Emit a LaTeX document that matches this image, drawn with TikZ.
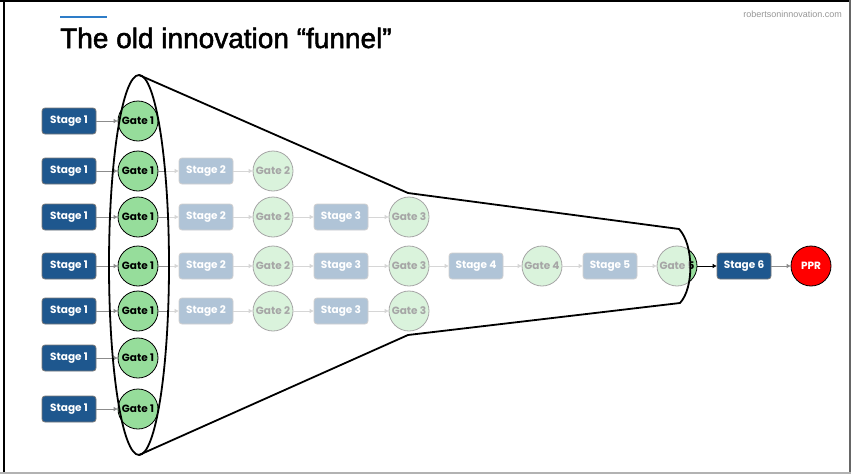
\documentclass[tikz,border=0pt]{standalone}
\usepackage{fontspec}
\setmainfont{Liberation Sans}
\newfontfamily\boxfont{Poppins}
\newfontfamily\titlefont[FakeBold=1.8]{Liberation Sans}
\usetikzlibrary{arrows.meta}
\definecolor{stageblue}{RGB}{30, 87, 142}
\definecolor{gategreen}{RGB}{150, 221, 155}
\definecolor{arrowgray}{RGB}{140, 140, 140}
\definecolor{titleblue}{RGB}{46, 125, 200}
\definecolor{boxborder}{RGB}{120, 120, 120}
\definecolor{urlgray}{RGB}{150, 150, 150}

\begin{document}
\begin{tikzpicture}[
  stagebox/.style={rectangle, rounded corners=3pt, minimum width=54pt, minimum height=26pt, inner sep=0pt, fill=stageblue, draw=boxborder, line width=0.8pt, text=white, font=\boxfont\bfseries\fontsize{10.5pt}{12pt}\selectfont},
  gatenode/.style={circle, minimum size=40pt, inner sep=0pt, fill=gategreen, draw=black, line width=0.8pt, font=\boxfont\bfseries\fontsize{10.5pt}{12pt}\selectfont},
  pprnode/.style={circle, minimum size=40pt, inner sep=0pt, fill=red, draw=black, line width=0.8pt, text=white, font=\boxfont\bfseries\fontsize{10.5pt}{12pt}\selectfont},
  flowarrow/.style={draw=arrowgray, line width=0.8pt, -{Triangle[length=4pt, width=4pt]}}
]
\useasboundingbox (0pt, 0pt) rectangle (851pt, -474pt);
% frame
\fill[black] (0pt, 0pt) rectangle (851pt, -2pt);
\fill[black] (2.5pt, 0pt) rectangle (5pt, -474pt);
\fill[gray!80!black] (849pt, 0pt) rectangle (851pt, -474pt);
\fill[gray!60] (0pt, -472pt) rectangle (851pt, -474pt);
% title
\draw[titleblue, line width=2pt] (60pt, -17pt) -- (107pt, -17pt);
\node (title) [anchor=base west, inner sep=0pt, font=\titlefont\fontsize{28pt}{30pt}\selectfont] at (60pt, -48pt) {The old innovation “funnel”};
\node (url) [anchor=base east, inner sep=0pt, text=urlgray, font=\fontsize{9pt}{10pt}\selectfont] at (842pt, -17pt) {robertsoninnovation.com};
% row 1
\node (s1a) [stagebox] at (69pt, -121pt) {Stage 1};
\node (g1a) [gatenode] at (138pt, -121pt) {Gate 1};
% row 2
\node (s1b) [stagebox] at (69pt, -171pt) {Stage 1};
\node (g1b) [gatenode] at (138pt, -171pt) {Gate 1};
\node (s2b) [stagebox] at (206pt, -171pt) {Stage 2};
\node (g2b) [gatenode] at (273pt, -171pt) {Gate 2};
% row 3
\node (s1c) [stagebox] at (69pt, -217pt) {Stage 1};
\node (g1c) [gatenode] at (138pt, -217pt) {Gate 1};
\node (s2c) [stagebox] at (206pt, -217pt) {Stage 2};
\node (g2c) [gatenode] at (273pt, -217pt) {Gate 2};
\node (s3c) [stagebox] at (341pt, -217pt) {Stage 3};
\node (g3c) [gatenode] at (409pt, -217pt) {Gate 3};
% row 4
\node (s1d) [stagebox] at (69pt, -266pt) {Stage 1};
\node (g1d) [gatenode] at (138pt, -266pt) {Gate 1};
\node (s2d) [stagebox] at (206pt, -266pt) {Stage 2};
\node (g2d) [gatenode] at (273pt, -266pt) {Gate 2};
\node (s3d) [stagebox] at (341pt, -266pt) {Stage 3};
\node (g3d) [gatenode] at (409pt, -266pt) {Gate 3};
\node (s4d) [stagebox] at (476pt, -266pt) {Stage 4};
\node (g4d) [gatenode] at (542pt, -266pt) {Gate 4};
\node (s5d) [stagebox] at (610pt, -266pt) {Stage 5};
\node (g5d) [gatenode] at (677pt, -266pt) {Gate 5};
\node (s6d) [stagebox] at (744pt, -266pt) {Stage 6};
\node (ppr) [pprnode] at (811pt, -266pt) {PPR};
% row 5
\node (s1e) [stagebox] at (69pt, -311pt) {Stage 1};
\node (g1e) [gatenode] at (138pt, -311pt) {Gate 1};
\node (s2e) [stagebox] at (206pt, -311pt) {Stage 2};
\node (g2e) [gatenode] at (273pt, -311pt) {Gate 2};
\node (s3e) [stagebox] at (341pt, -311pt) {Stage 3};
\node (g3e) [gatenode] at (409pt, -311pt) {Gate 3};
% rows 6 and 7
\node (s1f) [stagebox] at (69pt, -358pt) {Stage 1};
\node (g1f) [gatenode] at (138pt, -358pt) {Gate 1};
\node (s1g) [stagebox] at (69pt, -409pt) {Stage 1};
\node (g1g) [gatenode] at (138pt, -409pt) {Gate 1};
% arrows
\draw [flowarrow] (s1a) to (g1a);
\draw [flowarrow] (s1b) to (g1b);
\draw [flowarrow] (g1b) to (s2b);
\draw [flowarrow] (s2b) to (g2b);
\draw [flowarrow] (s1c) to (g1c);
\draw [flowarrow] (g1c) to (s2c);
\draw [flowarrow] (s2c) to (g2c);
\draw [flowarrow] (g2c) to (s3c);
\draw [flowarrow] (s3c) to (g3c);
\draw [flowarrow] (s1d) to (g1d);
\draw [flowarrow] (g1d) to (s2d);
\draw [flowarrow] (s2d) to (g2d);
\draw [flowarrow] (g2d) to (s3d);
\draw [flowarrow] (s3d) to (g3d);
\draw [flowarrow] (g3d) to (s4d);
\draw [flowarrow] (s4d) to (g4d);
\draw [flowarrow] (g4d) to (s5d);
\draw [flowarrow] (s5d) to (g5d);
\draw [flowarrow, draw=black] (g5d) to (s6d);
\draw [flowarrow] (s6d) to (ppr);
\draw [flowarrow] (s1e) to (g1e);
\draw [flowarrow] (g1e) to (s2e);
\draw [flowarrow] (s2e) to (g2e);
\draw [flowarrow] (g2e) to (s3e);
\draw [flowarrow] (s3e) to (g3e);
\draw [flowarrow] (s1f) to (g1f);
\draw [flowarrow] (s1g) to (g1g);
% funnel
\coordinate (ftop) at (139pt, -75pt);
\coordinate (fbot) at (139pt, -455pt);
\coordinate (fneck1) at (408pt, -193pt);
\coordinate (fneck2) at (408pt, -335pt);
\coordinate (fend1) at (679pt, -229pt);
\coordinate (fend2) at (680pt, -303pt);
\fill [white, fill opacity=0.65] (ftop) -- (fneck1) -- (fend1) .. controls (694pt, -245pt) and (694pt, -288pt) .. (fend2) -- (fneck2) -- (fbot) arc [start angle=-90, end angle=90, x radius=30pt, y radius=190pt] -- cycle;
\draw [line width=1.8pt, line join=round] (139pt, -265pt) ellipse [x radius=30pt, y radius=190pt];
\draw [line width=1.8pt, line join=round] (ftop) -- (fneck1) -- (fend1) .. controls (694pt, -245pt) and (694pt, -288pt) .. (fend2) -- (fneck2) -- (fbot);
\end{tikzpicture}
\end{document}
